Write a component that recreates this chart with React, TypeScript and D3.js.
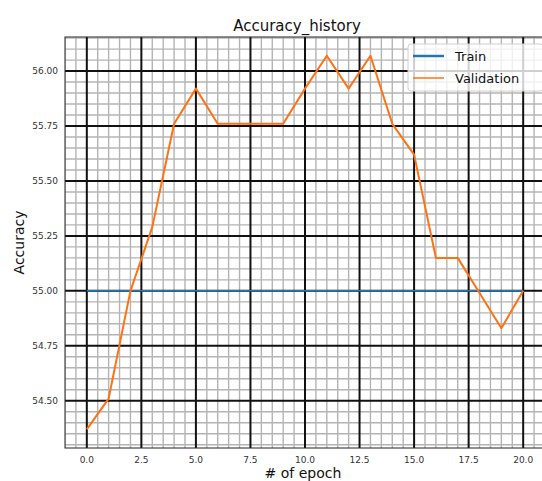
import React from "react";
import * as d3 from "d3";

const epochs = d3.range(0, 21);
const trainAcc = epochs.map(() => 55.0);
const valAcc = [
  54.37, 54.51, 55.0, 55.29, 55.76, 55.92, 55.76, 55.76, 55.76, 55.76, 55.92,
  56.07, 55.92, 56.07, 55.76, 55.62, 55.15, 55.15, 54.99, 54.83, 55.0,
];
const xTicks = [0, 2.5, 5, 7.5, 10, 12.5, 15, 17.5, 20];
const yTicks = [54.5, 54.75, 55.0, 55.25, 55.5, 55.75, 56.0];
const seriesNames = ["Train", "Validation"];
const seriesColors = ["#1f77b4", "#ff7214"];

const W = 542;
const H = 481;
const plot = { left: 65, top: 37, right: 545, bottom: 448 };
const FONT = "DejaVu Sans, sans-serif";

export default function App() {
  const all = [...trainAcc, ...valAcc];
  const yMin = d3.min(all)!;
  const yMax = d3.max(all)!;
  const yPad = (yMax - yMin) * 0.05;
  const x = d3.scaleLinear().domain([-1, 21]).range([plot.left, plot.right]);
  const y = d3
    .scaleLinear()
    .domain([yMin - yPad, yMax + yPad])
    .range([plot.bottom, plot.top]);

  const xMinor = d3.range(-1, 21.001, 0.5).filter((v) => !xTicks.includes(v));
  const yMinorAll = d3.range(54.3, 56.2, 0.05).map((v) => Math.round(v * 100) / 100);
  const yMinor = yMinorAll.filter(
    (v) => v >= y.domain()[0] && v <= y.domain()[1] && !yTicks.some((t) => Math.abs(t - v) < 1e-6)
  );

  const line = d3
    .line<number>()
    .x((_, i) => x(epochs[i]))
    .y((d) => y(d));

  const fmtX = d3.format(".1f");
  const fmtY = d3.format(".2f");

  return (
    <svg
      width={W}
      height={H}
      style={{ position: "absolute", left: 0, top: 0, background: "#fff" }}
    >
      <defs>
        <clipPath id="plotArea">
          <rect x={plot.left} y={plot.top} width={plot.right - plot.left} height={plot.bottom - plot.top} />
        </clipPath>
      </defs>
      <rect x={0} y={0} width={W} height={H} fill="#fff" />
      <g clipPath="url(#plotArea)">
        {xMinor.map((v) => (
          <line key={"xm" + v} x1={x(v)} x2={x(v)} y1={plot.top} y2={plot.bottom} stroke="#b4b4b4" strokeWidth={1.4} />
        ))}
        {yMinor.map((v) => (
          <line key={"ym" + v} x1={plot.left} x2={plot.right} y1={y(v)} y2={y(v)} stroke="#b4b4b4" strokeWidth={1.4} />
        ))}
        {xTicks.map((v) => (
          <line key={"xM" + v} x1={x(v)} x2={x(v)} y1={plot.top} y2={plot.bottom} stroke="#111" strokeWidth={2} />
        ))}
        {yTicks.map((v) => (
          <line key={"yM" + v} x1={plot.left} x2={plot.right} y1={y(v)} y2={y(v)} stroke="#111" strokeWidth={2} />
        ))}
        <path d={line(trainAcc)!} fill="none" stroke={seriesColors[0]} strokeWidth={1.5} />
        <path d={line(valAcc)!} fill="none" stroke={seriesColors[1]} strokeWidth={2} strokeLinejoin="round" />
      </g>
      <rect
        x={plot.left}
        y={plot.top}
        width={plot.right - plot.left}
        height={plot.bottom - plot.top}
        fill="none"
        stroke="#222"
        strokeWidth={1}
      />
      {/* tick labels */}
      {xTicks.map((v) => (
        <text key={"xl" + v} x={x(v)} y={plot.bottom + 15} fontSize={9} fontFamily={FONT} fill="#333" textAnchor="middle">
          {fmtX(v)}
        </text>
      ))}
      {yTicks.map((v) => (
        <text key={"yl" + v} x={plot.left - 7} y={y(v) + 3} fontSize={9} fontFamily={FONT} fill="#333" textAnchor="end">
          {fmtY(v)}
        </text>
      ))}
      {/* axis titles */}
      <text x={297} y={31} fontSize={15} fontFamily={FONT} fill="#111" textAnchor="middle">
        Accuracy_history
      </text>
      <text x={303} y={478} fontSize={14} fontFamily={FONT} fill="#111" textAnchor="middle">
        # of epoch
      </text>
      <text
        transform={`translate(24, ${(plot.top + plot.bottom) / 2}) rotate(-90)`}
        fontSize={14}
        fontFamily={FONT}
        fill="#111"
        textAnchor="middle"
      >
        Accuracy
      </text>
      {/* legend */}
      <g>
        <rect x={408} y={44} width={135} height={47} rx={3} fill="#fff" fillOpacity={0.8} stroke="#d0d0d0" />
        {seriesNames.map((name, i) => (
          <g key={name}>
            <line x1={413} x2={444} y1={56 + i * 22} y2={56 + i * 22} stroke={seriesColors[i]} strokeWidth={i === 0 ? 2.5 : 1.5} />
            <text x={455} y={61 + i * 22} fontSize={13} fontFamily={FONT} fill="#111">
              {name}
            </text>
          </g>
        ))}
      </g>
    </svg>
  );
}
